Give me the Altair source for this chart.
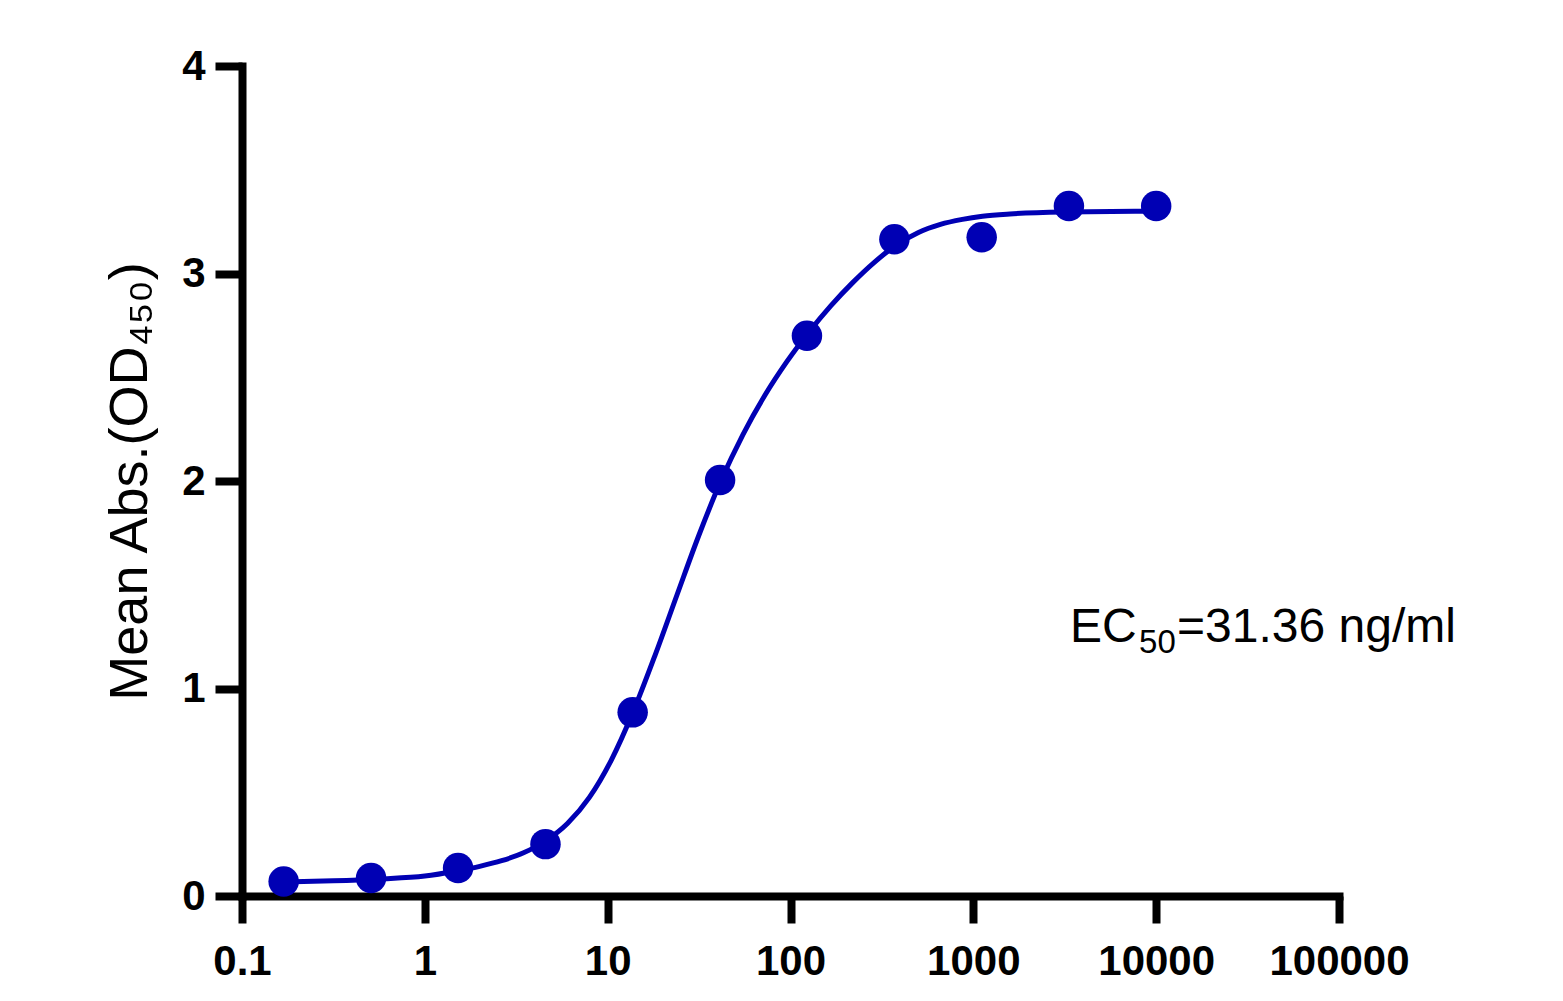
import altair as alt
import pandas as pd

# Measured points (concentration ng/ml, mean OD450)
conc = [0.169, 0.508, 1.52, 4.57, 13.7, 41.2, 123.0, 370.0, 1111.0, 3333.0, 10000.0]
od = [0.07, 0.087, 0.135, 0.25, 0.885, 2.005, 2.70, 3.165, 3.175, 3.325, 3.325]

# Fitted curve
curve_x = [0.169, 0.316, 0.562, 1.0, 1.514, 1.995, 2.63, 3.467, 4.571, 6.026, 7.943,
           10.47, 13.8, 18.2, 23.99, 31.62, 41.69, 54.95, 72.44, 95.5, 125.9, 166.0,
           218.8, 288.4, 380.2, 501.2, 660.7, 871.0, 1122.0, 1585.0, 3162.0, 10000.0]
curve_y = [0.067, 0.073, 0.082, 0.096, 0.122, 0.143, 0.170, 0.208, 0.265, 0.349, 0.475,
           0.655, 0.889, 1.162, 1.453, 1.741, 2.002, 2.224, 2.413, 2.575, 2.717, 2.844,
           2.956, 3.055, 3.138, 3.198, 3.237, 3.261, 3.276, 3.287, 3.296, 3.300]

x_ticks = [0.1, 1, 10, 100, 1000, 10000, 100000]
y_ticks = [0, 1, 2, 3, 4]

ann_main = ["EC"]
ann_sub = ["50"]
ann_rest = ["=31.36 ng/ml"]
ann_x = [3380.0]
ann_y = [1.224]

blue = "#0000B4"

pts = pd.DataFrame({"conc": conc, "od": od})
crv = pd.DataFrame({"conc": curve_x, "od": curve_y})
ann = pd.DataFrame({"conc": ann_x, "od": ann_y, "a": ann_main, "b": ann_sub, "c": ann_rest})

xscale = alt.Scale(type="log", domain=[0.1, 100000], nice=False)
yscale = alt.Scale(domain=[0, 4], nice=False)

xaxis = alt.Axis(values=x_ticks, format="~f", title=None, grid=False,
                 labelPadding=18, labelFlush=False, labelOverlap=False)
yaxis = alt.Axis(values=y_ticks, format="d", title="Mean Abs.(OD₄₅₀)", grid=False,
                 labelPadding=10, titleX=-96, titleY=415, titleAngle=270,
                 titleAlign="center", titleBaseline="alphabetic",
                 titleFont="Liberation Sans", titleFontSize=54,
                 titleFontWeight="normal", titleColor="black")

line = alt.Chart(crv).mark_line(color=blue, strokeWidth=5, interpolate="monotone").encode(
    x=alt.X("conc:Q", scale=xscale, axis=xaxis),
    y=alt.Y("od:Q", scale=yscale, axis=yaxis),
)

dots = alt.Chart(pts).mark_circle(color=blue, size=930, opacity=1).encode(
    x=alt.X("conc:Q", scale=xscale),
    y=alt.Y("od:Q", scale=yscale),
)

base_ann = alt.Chart(ann).encode(
    x=alt.X("conc:Q", scale=xscale),
    y=alt.Y("od:Q", scale=yscale),
)
t1 = base_ann.mark_text(align="left", baseline="alphabetic", font="Liberation Sans",
                        fontSize=48, color="black").encode(text="a:N")
t2 = base_ann.mark_text(align="left", baseline="alphabetic", font="Liberation Sans",
                        fontSize=33, color="black", dx=69, dy=11).encode(text="b:N")
t3 = base_ann.mark_text(align="left", baseline="alphabetic", font="Liberation Sans",
                        fontSize=48, color="black", dx=107).encode(text="c:N")

chart = alt.layer(line, dots, t1, t2, t3).properties(
    width=1097, height=830,
    autosize=alt.AutoSizeParams(type="none"),
    padding={"left": 234, "top": 58, "right": 200, "bottom": 90},
).configure_view(stroke=None).configure_axis(
    domainColor="black", domainWidth=8, domainCap="square",
    tickColor="black", tickWidth=8, tickSize=27,
    labelFont="Liberation Sans", labelFontSize=42, labelFontWeight="bold",
    labelColor="black",
)

chart.save("out.html", embed_options={"renderer": "svg", "actions": False})
